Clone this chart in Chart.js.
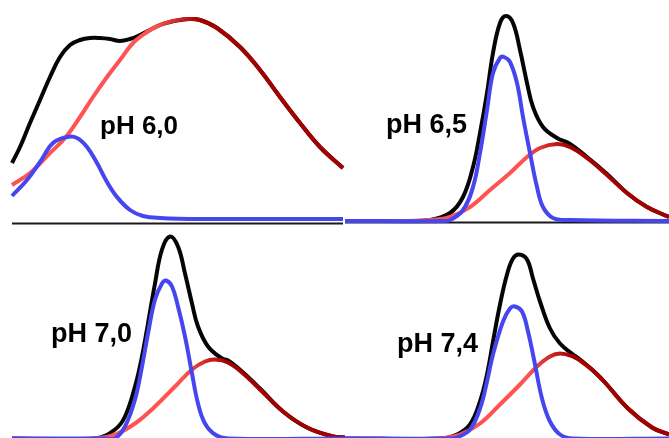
<!DOCTYPE html>
<html>
<head>
<meta charset="utf-8">
<script src="https://cdn.jsdelivr.net/npm/chart.js@4"></script>
<style>
  html, body { margin:0; padding:0; background:#fff; }
  #wrap { position:relative; width:669px; height:438px; overflow:hidden; background:#fff; }
  .panel { position:absolute; }
  .label { position:absolute; font-family:"Liberation Sans", Arial, sans-serif; font-weight:bold; color:#000; white-space:nowrap; }
</style>
</head>
<body>
<div id="wrap">
  <div class="panel" style="left:0px;top:0px;width:345px;height:228px"><canvas id="c1" width="345" height="228"></canvas></div>
  <div class="panel" style="left:345px;top:0px;width:324px;height:228px"><canvas id="c2" width="324" height="228"></canvas></div>
  <div class="panel" style="left:0px;top:228px;width:345px;height:210px"><canvas id="c3" width="345" height="210"></canvas></div>
  <div class="panel" style="left:345px;top:228px;width:324px;height:210px"><canvas id="c4" width="324" height="210"></canvas></div>
  <div class="label" style="left:100px;top:112px;font-size:26px;line-height:26px">pH 6,0</div>
  <div class="label" style="left:386px;top:111px;font-size:27px;line-height:27px">pH 6,5</div>
  <div class="label" style="left:51px;top:320px;font-size:27px;line-height:27px">pH 7,0</div>
  <div class="label" style="left:397px;top:330px;font-size:27px;line-height:27px">pH 7,4</div>
</div>
<script>
// ---- Data (x = position along each panel's axis, y = signal height above baseline) ----
// pH 6,0
const p1BlackX = [12,20,30,40,50,60,70,80,90,100,110,120,130,140,150,160,170,180,190,200,217,240,260,280,300,320,343];
const p1Black  = [56,72,96,119,142,162,174,179,181,181,180,178,180,184,189,194,197,199,200,199,191,172,149,122,96,72,51];
const p1BlueX  = [12,27,40,53,67,77,87,97,107,117,130,143,160,200,343];
const p1Blue   = [23,39,57,76,82,81,72,56,37,22,9,3,1,0,0];
const p1RedX   = [12,30,50,65,80,93,107,120,133,147,160,173,187,200,217,240,260,280,300,320,343];
const p1Red    = [34,46,66,81,102,122,142,159,176,187,194,198,200,199,191,172,149,122,96,72,51];

// pH 6,5
const p2BlackX = [0,55,85,105,118,128,135,142,148,155,161,168,175,182,188,198,212,225,242,262,282,302,324];
const p2Black  = [0,0,1,8,24,54,88,128,168,198,205,198,171,138,114,94,83,77,64,47,28,14,4];
const p2BlueX  = [0,95,105,118,128,135,142,148,155,159,165,172,178,185,192,198,208,225,324];
const p2Blue   = [0,0,1,11,34,68,111,148,163,164,159,138,104,68,34,14,3,1,0];
const p2RedX   = [0,55,85,105,125,145,165,182,195,212,225,242,262,282,302,324];
const p2Red    = [0,0,1,4,14,31,48,64,73,77,74,63,46,28,14,4];

// pH 7,0
const p3BlackX = [12,95,115,125,135,142,148,155,162,170,178,185,192,198,208,222,228,242,260,283,307,333,345];
const p3Black  = [0,0,9,22,52,82,115,155,189,202,192,165,135,112,92,80,78,67,50,27,11,2,1];
const p3BlueX  = [12,105,115,125,135,142,148,155,162,166,172,178,185,192,198,205,215,228,345];
const p3Blue   = [0,0,0,12,39,72,105,139,155,158,152,132,102,65,35,15,4,0,0];
const p3RedX   = [12,95,115,135,155,175,192,205,215,228,242,260,283,307,333,345];
const p3Red    = [0,0,4,15,32,52,69,77,79,76,66,49,27,11,2,1];

// pH 7,4
const p4BlackX = [0,95,112,125,135,142,148,155,162,168,174,182,188,195,205,215,228,235,248,260,283,307,324];
const p4Black  = [0,0,4,14,37,64,97,134,164,180,184,179,160,137,110,95,84,79,68,56,30,11,4];
const p4BlueX  = [0,105,112,125,135,142,148,158,165,170,177,183,190,197,205,215,228,324];
const p4Blue   = [0,0,1,9,30,57,84,117,130,132,127,107,74,40,17,4,0,0];
const p4RedX   = [0,95,115,135,155,175,192,205,215,228,235,248,260,283,307,324];
const p4Red    = [0,0,4,15,34,54,72,82,85,82,78,68,56,30,11,4];

// ---- Styling / layout ----
const BLACK = '#050505';
const BLUE = '#4646f0';
const RED_LIGHT = '#ff5252';
const RED_DARK = '#a50000';

const panels = [
  { id:'c1', xMin:0, xMax:345, yMin:-9, yMax:219, base:-4.5, black:[p1BlackX,p1Black], blue:[p1BlueX,p1Blue], red:[p1RedX,p1Red] },
  { id:'c2', xMin:0, xMax:324, yMin:-7, yMax:221, base:-1.5, black:[p2BlackX,p2Black], blue:[p2BlueX,p2Blue], red:[p2RedX,p2Red] },
  { id:'c3', xMin:0, xMax:345, yMin:0.5, yMax:210.5, base:null, black:[p3BlackX,p3Black], blue:[p3BlueX,p3Blue], red:[p3RedX,p3Red] },
  { id:'c4', xMin:0, xMax:324, yMin:0.5, yMax:210.5, base:null, black:[p4BlackX,p4Black], blue:[p4BlueX,p4Blue], red:[p4RedX,p4Red] }
];

function pts(pair) { return pair[0].map((x, i) => ({ x: x, y: pair[1][i] })); }

function peakX(pair) {
  let bi = 0;
  pair[1].forEach((v, i) => { if (v > pair[1][bi]) bi = i; });
  return pair[0][bi];
}

panels.forEach(p => {
  const redPeak = peakX(p.red);
  const datasets = [
    { data: pts(p.blue), borderColor: BLUE, borderWidth: 4 },
    { data: pts(p.red), borderWidth: 4,
      borderColor: (ctx) => {
        const chart = ctx.chart;
        if (!chart.chartArea) return RED_LIGHT;
        const xs = chart.scales.x;
        const x0 = xs.getPixelForValue(redPeak - 32);
        const x1 = xs.getPixelForValue(redPeak + 12);
        const g = chart.ctx.createLinearGradient(x0, 0, x1, 0);
        g.addColorStop(0, RED_LIGHT);
        g.addColorStop(1, RED_DARK);
        return g;
      } },
    { data: pts(p.black), borderColor: BLACK, borderWidth: 4 }
  ];
  if (p.base !== null) {
    const bx = p.black[0];
    datasets.push({ data: [{ x: bx[0], y: p.base }, { x: bx[bx.length - 1], y: p.base }],
      borderColor: '#1a1a1a', borderWidth: 2, tension: 0 });
  }
  new Chart(document.getElementById(p.id), {
    type: 'line',
    data: { datasets: datasets },
    options: {
      responsive: false,
      animation: false,
      devicePixelRatio: 1,
      layout: { padding: 0 },
      elements: {
        point: { radius: 0, hoverRadius: 0 },
        line: { tension: 0.4, capBezierPoints: false, fill: false, borderCapStyle: 'butt', borderJoinStyle: 'round' }
      },
      plugins: { legend: { display: false }, tooltip: { enabled: false }, title: { display: false } },
      scales: {
        x: { type: 'linear', display: false, min: p.xMin, max: p.xMax },
        y: { type: 'linear', display: false, min: p.yMin, max: p.yMax }
      }
    }
  });
});
</script>
</body>
</html>
